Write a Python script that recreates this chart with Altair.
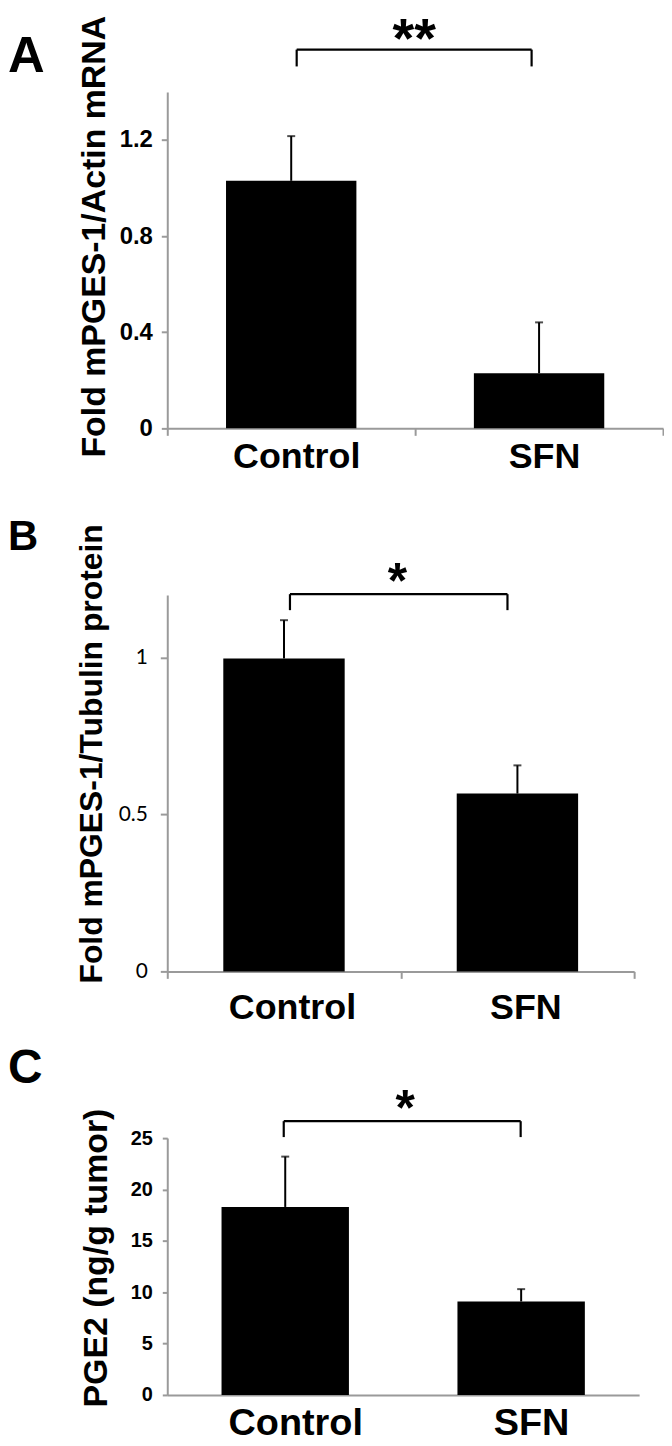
import altair as alt
import pandas as pd

groups = ["Control", "SFN"]

# Panel A: Fold mPGES-1/Actin mRNA
a_means = [1.03, 0.229]
a_err = [0.186, 0.212]
a_ticks = [0, 0.4, 0.8, 1.2]
a_ymax = 1.4
a_bracket = [1.576, 1.506, 1.667]  # bar level, leg bottom, star level
a_star = "**"

# Panel B: Fold mPGES-1/Tubulin protein
b_means = [0.998, 0.567]
b_err = [0.122, 0.090]
b_ticks = [0, 0.5, 1]
b_ymax = 1.2
b_bracket = [1.203, 1.152, 1.276]
b_star = "*"

# Panel C: PGE2 (ng/g tumor)
c_means = [18.3, 9.1]
c_err = [4.9, 1.2]
c_ticks = [0, 5, 10, 15, 20, 25]
c_ymax = 25
c_bracket = [26.65, 25.1, 29.07]
c_star = "*"

GRAY = "#9a9a9a"
BOLD = "Liberation Sans"


def panel(letter, means, errs, ymax, ticks, ytitle, br, star, st):
    df = pd.DataFrame({"group": groups, "mean": means,
                       "top": [m + e for m, e in zip(means, errs)]})
    bdf = pd.DataFrame({"a": [groups[0]], "b": [groups[1]], "y": [br[0]],
                        "y2": [br[1]], "ys": [br[2]], "star": [star]})
    xscale = alt.Scale(domain=groups, paddingInner=0, paddingOuter=0)
    yscale = alt.Scale(domain=[0, ymax], nice=False, zero=True)

    xaxis = alt.Axis(title=None, labelAngle=0, domainColor=GRAY, domainWidth=2,
                     ticks=st["xticks"], tickBand="extent", tickColor=GRAY, tickWidth=2,
                     tickSize=st["xtick"], labelFont=BOLD, labelFontWeight="bold",
                     labelFontSize=st["xfs"], labelColor="black",
                     labelPadding=st["xpad"], labelOffset=st["xoff"], labelBaseline="top")
    yaxis = alt.Axis(title=ytitle, values=ticks, grid=False, domainColor=GRAY, domainWidth=2,
                     tickColor=GRAY, tickWidth=2, tickSize=st["ytick"],
                     labelFont=st["yfont"], labelFontWeight=st["yweight"],
                     labelFontSize=st["yfs"], labelColor="black", labelPadding=st["ypad"],
                     labelExpr=st["lexpr"],
                     titleFont=BOLD, titleFontWeight="bold", titleFontSize=st["tfs"],
                     titleColor="black", titleAngle=270, titleAlign="center",
                     titleBaseline="alphabetic", titleX=st["tx"], titleY=st["ty"])

    def X(f):
        return alt.X(f, scale=xscale, axis=xaxis)

    def Y(f):
        return alt.Y(f, scale=yscale, axis=yaxis)

    bars = alt.Chart(df).mark_bar(color="black", width=alt.RelativeBandSize(st["bw"])).encode(
        x=X("group:N"), y=Y("mean:Q"))
    err = alt.Chart(df).mark_rule(color="black", strokeWidth=2).encode(
        x=X("group:N"), y=Y("mean:Q"), y2="top:Q")
    cap = alt.Chart(df).mark_tick(color="black", thickness=2, size=8, orient="horizontal").encode(
        x=X("group:N"), y=Y("top:Q"))
    hbar = alt.Chart(bdf).mark_rule(color="black", strokeWidth=2.2,
                                    xOffset=st["dl"], x2Offset=st["dr"]).encode(
        x=X("a:N"), x2="b:N", y=Y("y:Q"))
    legl = alt.Chart(bdf).mark_rule(color="black", strokeWidth=2.2, xOffset=st["dl"]).encode(
        x=X("a:N"), y=Y("y:Q"), y2="y2:Q")
    legr = alt.Chart(bdf).mark_rule(color="black", strokeWidth=2.2, xOffset=st["dr"]).encode(
        x=X("b:N"), y=Y("y:Q"), y2="y2:Q")
    stars = alt.Chart(bdf).mark_text(font=BOLD, fontWeight="bold", fontSize=st["sfs"],
                                     baseline="top", align="center", dx=st["sdx"],
                                     dy=st["sdy"], color="black").encode(
        x=X("a:N"), y=Y("ys:Q"), text="star:N")

    return alt.layer(bars, err, cap, hbar, legl, legr, stars).properties(
        width=st["w"], height=st["h"],
        title=alt.Title(letter, anchor="start", frame="group", orient="top",
                        font=BOLD, fontWeight="bold", fontSize=st["lfs"], color="black",
                        dx=st["ldx"], dy=st["ldy"], offset=0, baseline="alphabetic"))


A = panel("A", a_means, a_err, a_ymax, a_ticks, "Fold mPGES-1/Actin mRNA", a_bracket, a_star,
          dict(w=498, h=338, bw=0.526, xticks=True, xtick=7, xfs=36, xpad=4, xoff=5,
               ytick=6, yfont=BOLD, yweight="bold", yfs=24, ypad=9,
               lexpr="datum.value == 0 ? '0' : format(datum.value, '.1f')",
               tfs=34, tx=-63, ty=145, dl=5.5, dr=-7.5, sfs=56, sdx=123.5, sdy=-15,
               lfs=51, ldx=-160, ldy=111))
B = panel("B", b_means, b_err, b_ymax, b_ticks, "Fold mPGES-1/Tubulin protein", b_bracket, b_star,
          dict(w=469, h=378, bw=0.52, xticks=True, xtick=7, xfs=36, xpad=12, xoff=8,
               ytick=7, yfont="Lato", yweight="normal", yfs=21, ypad=13,
               lexpr="format(datum.value, '~g')",
               tfs=32, tx=-66, ty=159, dl=6, dr=-10, sfs=50, sdx=114, sdy=-13,
               lfs=42, ldx=-160, ldy=68))
C = panel("C", c_means, c_err, c_ymax, c_ticks, "PGE2 (ng/g tumor)", c_bracket, c_star,
          dict(w=474, h=258, bw=0.54, xticks=False, xtick=0, xfs=38, xpad=10, xoff=10,
               ytick=5, yfont=BOLD, yweight="bold", yfs=20, ypad=10,
               lexpr="format(datum.value, '~g')",
               tfs=34, tx=-61, ty=120, dl=-1.5, dr=-0.5, sfs=50, sdx=120.5, sdy=-11,
               lfs=48, ldx=-160, ldy=46))

chart = alt.vconcat(A, B, C, spacing=167.5, bounds="flush").properties(
    padding=0, background="white").configure_view(stroke=None)

chart.save("out.html", embed_options={"renderer": "svg", "actions": False})
